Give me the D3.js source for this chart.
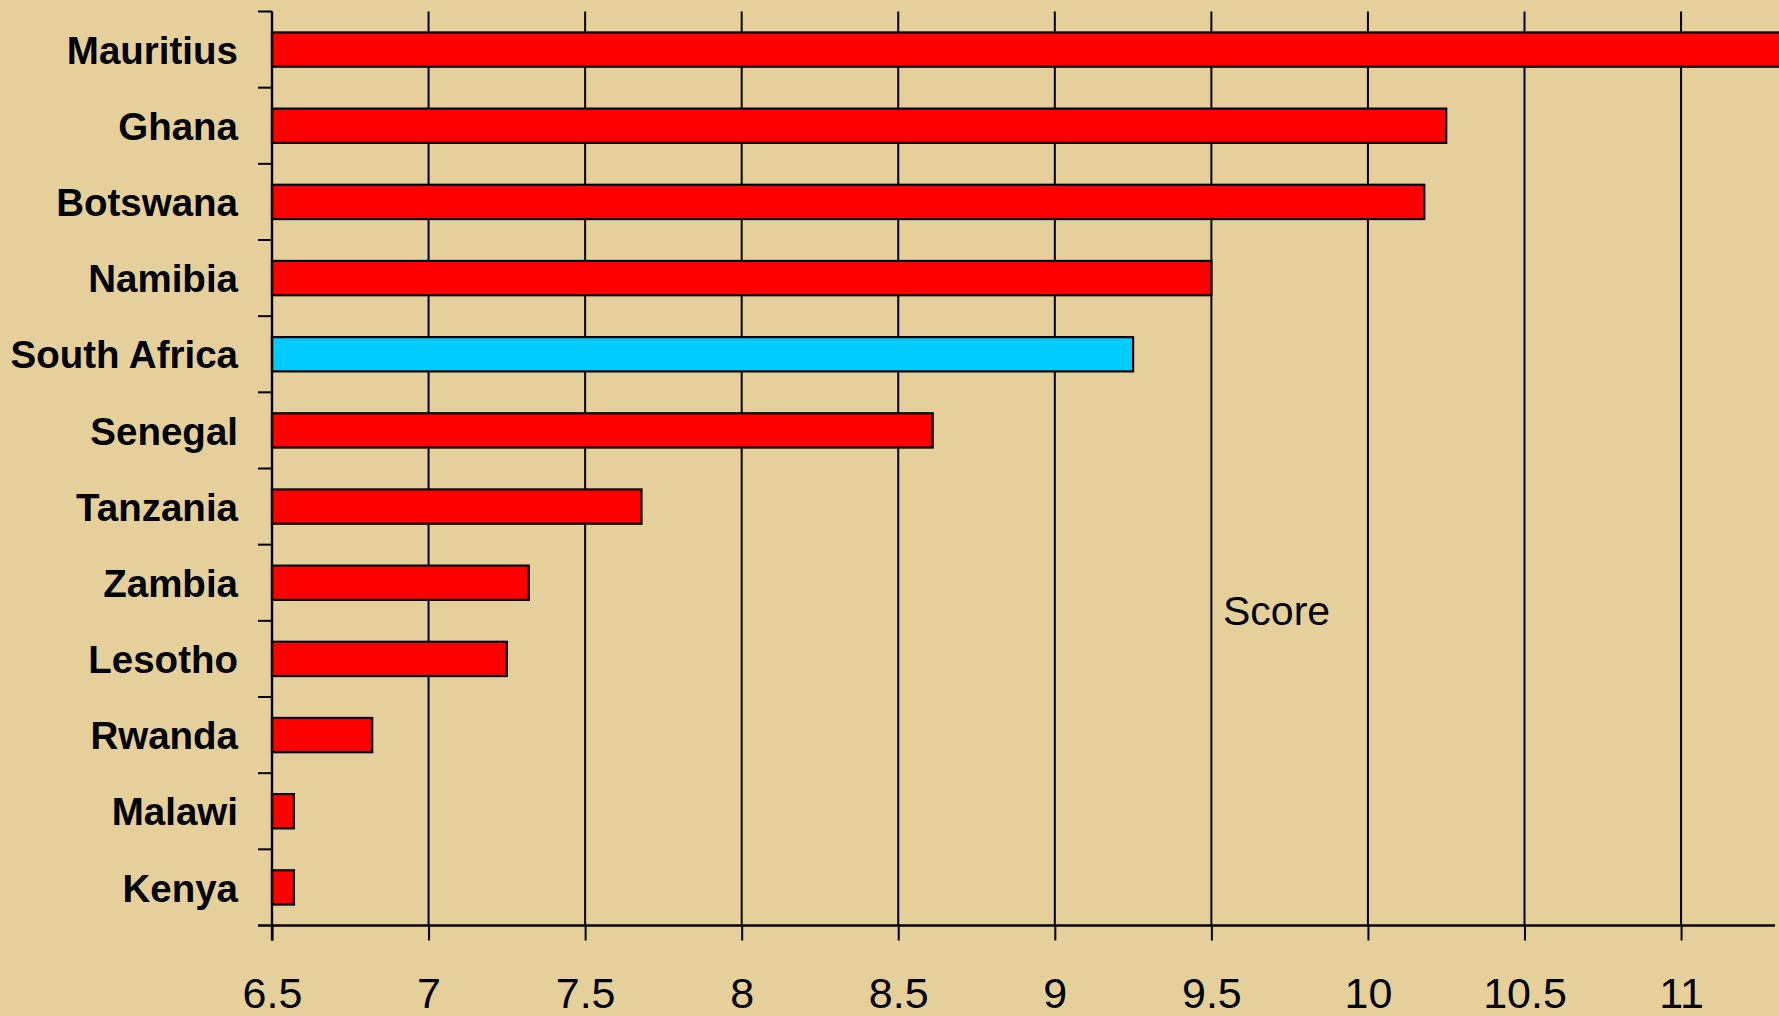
<!DOCTYPE html>
<html>
<head>
<meta charset="utf-8">
<script src="https://cdn.jsdelivr.net/npm/d3@7"></script>
<style>
  html, body { margin: 0; padding: 0; background: #E5D09B; overflow: hidden; }
  svg { display: block; }
</style>
</head>
<body>
<svg id="chart" width="1779" height="1016"></svg>
<script>
// Country scores, top to bottom
const countries = ["Mauritius", "Ghana", "Botswana", "Namibia", "South Africa", "Senegal",
                   "Tanzania", "Zambia", "Lesotho", "Rwanda", "Malawi", "Kenya"];
const scores = [11.6, 10.25, 10.18, 9.5, 9.25, 8.61, 7.68, 7.32, 7.25, 6.82, 6.57, 6.57];
const highlighted = ["South Africa"];
const xTicks = [6.5, 7, 7.5, 8, 8.5, 9, 9.5, 10, 10.5, 11];
const xDomain = [6.5, 11.3];
const axisTitle = "Score";

const plotLeft = 272, plotRight = 1775, plotTop = 11.5, plotBottom = 925.5;

const svg = d3.select("#chart");

const x = d3.scaleLinear().domain(xDomain).range([plotLeft, plotRight]);
const y = d3.scaleBand().domain(countries).range([plotTop, plotBottom]).padding(0);
const barH = y.bandwidth() * 0.45;

// vertical grid lines
svg.append("g")
  .selectAll("line")
  .data(xTicks)
  .join("line")
  .attr("x1", d => x(d)).attr("x2", d => x(d))
  .attr("y1", plotTop).attr("y2", plotBottom)
  .attr("stroke", "#000").attr("stroke-width", 2);

// bars
svg.append("g")
  .selectAll("rect")
  .data(countries.map((c, i) => ({ c, v: scores[i] })))
  .join("rect")
  .attr("x", x(xDomain[0]))
  .attr("y", d => y(d.c) + (y.bandwidth() - barH) / 2)
  .attr("width", d => x(d.v) - x(xDomain[0]))
  .attr("height", barH)
  .attr("fill", d => highlighted.includes(d.c) ? "#00CCFF" : "#FF0000")
  .attr("stroke", "#000")
  .attr("stroke-width", 2.2);

// x axis with ticks below
const xAxis = d3.axisBottom(x).tickValues(xTicks).tickSize(15).tickSizeOuter(0)
  .tickFormat(d3.format("~g"));
const gx = svg.append("g").attr("transform", `translate(0,${plotBottom})`).call(xAxis);
gx.select(".domain").remove();
gx.selectAll(".tick line").attr("stroke", "#000").attr("stroke-width", 2);
gx.selectAll(".tick text")
  .attr("y", 82).attr("dy", 0)
  .attr("font-family", "'Liberation Sans', Arial, sans-serif")
  .attr("font-size", 43)
  .attr("fill", "#000");
svg.append("line")
  .attr("x1", plotLeft - 14).attr("x2", plotRight)
  .attr("y1", plotBottom).attr("y2", plotBottom)
  .attr("stroke", "#000").attr("stroke-width", 2.4);

// y axis: line and ticks at category boundaries
const boundaries = d3.range(countries.length + 1).map(i => plotTop + i * y.step());
svg.append("line")
  .attr("x1", plotLeft).attr("x2", plotLeft)
  .attr("y1", plotTop).attr("y2", plotBottom + 15)
  .attr("stroke", "#000").attr("stroke-width", 2.4);
svg.append("g")
  .selectAll("line")
  .data(boundaries.slice(0, -1))
  .join("line")
  .attr("x1", plotLeft - 14).attr("x2", plotLeft)
  .attr("y1", d => d).attr("y2", d => d)
  .attr("stroke", "#000").attr("stroke-width", 2);

// category labels
svg.append("g")
  .selectAll("text")
  .data(countries)
  .join("text")
  .attr("x", plotLeft - 34)
  .attr("y", d => y(d) + y.bandwidth() / 2)
  .attr("dy", "0.37em")
  .attr("text-anchor", "end")
  .attr("font-family", "'Liberation Sans', Arial, sans-serif")
  .attr("font-weight", "bold")
  .attr("font-size", 38.5)
  .attr("fill", "#000")
  .text(d => d);

// axis title
svg.append("text")
  .attr("x", 1223).attr("y", 625)
  .attr("font-family", "'Liberation Sans', Arial, sans-serif")
  .attr("font-size", 41)
  .attr("fill", "#000")
  .text(axisTitle);
</script>
</body>
</html>
